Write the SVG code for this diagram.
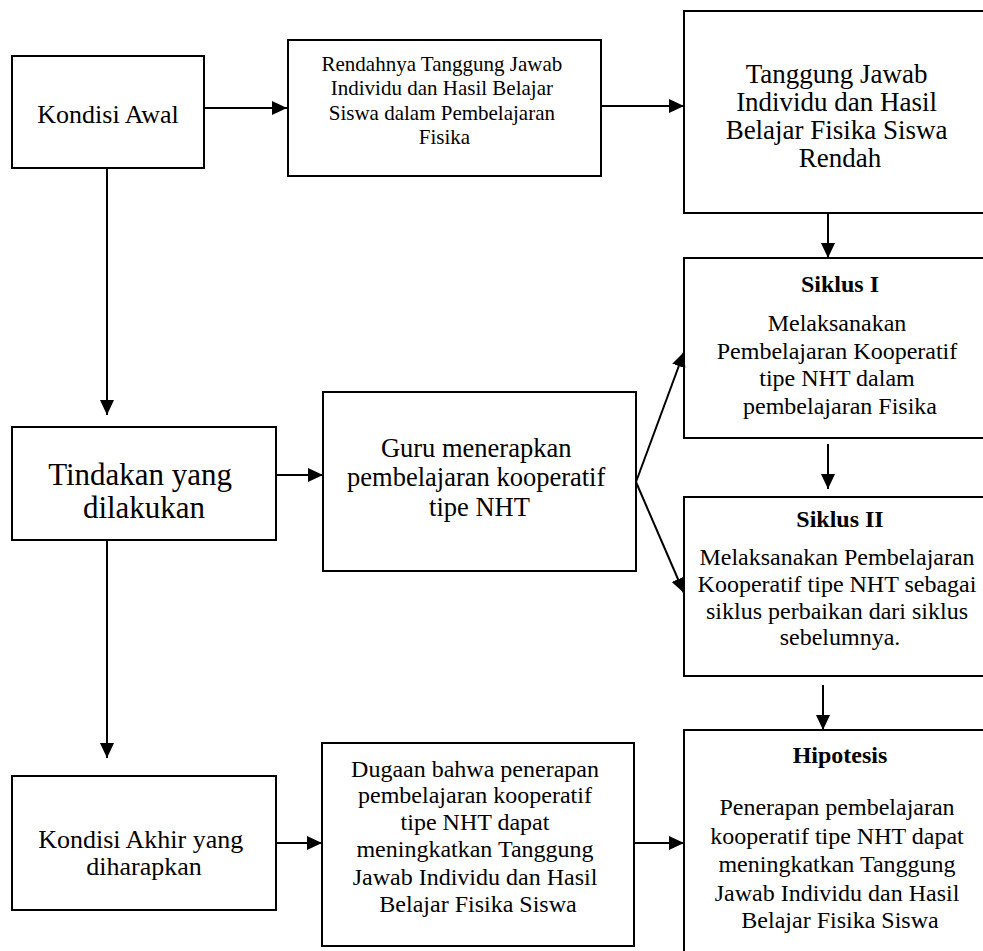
<svg xmlns="http://www.w3.org/2000/svg" width="983" height="951" viewBox="0 0 983 951">
  <style>
    .box { fill: #ffffff; stroke: #000000; stroke-width: 2; }
    text { font-family: 'Liberation Serif', serif; fill: #000000; text-anchor: middle; }
    .b { font-weight: bold; }
    .link { stroke: #000000; stroke-width: 2; fill: none; marker-end: url(#arrow); }
  </style>
  <defs>
    <marker id="arrow" markerUnits="userSpaceOnUse" markerWidth="15" markerHeight="14" refX="15" refY="7" orient="auto">
      <path d="M0,0 L15,7 L0,14 Z" fill="#000000"/>
    </marker>
  </defs>
  <rect width="983" height="951" fill="#ffffff"/>

  <!-- left column -->
  <g id="kondisi-awal">
    <rect class="box" x="12" y="56" width="192" height="112"/>
    <text x="108" y="123" font-size="26">Kondisi Awal</text>
  </g>
  <g id="tindakan">
    <rect class="box" x="12" y="427" width="264" height="113"/>
    <text font-size="31">
      <tspan x="144" y="485">Tindakan yang</tspan>
      <tspan x="144" y="518">dilakukan</tspan>
    </text>
  </g>
  <g id="kondisi-akhir">
    <rect class="box" x="12" y="776" width="264" height="134"/>
    <text font-size="26">
      <tspan x="144" y="848">Kondisi Akhir yang</tspan>
      <tspan x="144" y="875">diharapkan</tspan>
    </text>
  </g>

  <!-- middle column -->
  <g id="rendahnya">
    <rect class="box" x="288" y="40" width="313" height="136"/>
    <text font-size="21">
      <tspan x="444.5" y="71">Rendahnya Tanggung Jawab</tspan>
      <tspan x="444.5" y="95">Individu dan Hasil Belajar</tspan>
      <tspan x="444.5" y="120">Siswa dalam Pembelajaran</tspan>
      <tspan x="444.5" y="144">Fisika</tspan>
    </text>
  </g>
  <g id="guru">
    <rect class="box" x="323" y="392" width="313" height="179"/>
    <text font-size="26.5">
      <tspan x="479.5" y="457">Guru menerapkan</tspan>
      <tspan x="479.5" y="486">pembelajaran kooperatif</tspan>
      <tspan x="479.5" y="516">tipe NHT</tspan>
    </text>
  </g>
  <g id="dugaan">
    <rect class="box" x="322" y="743" width="312" height="203"/>
    <text font-size="24">
      <tspan x="478" y="777">Dugaan bahwa penerapan</tspan>
      <tspan x="478" y="803">pembelajaran kooperatif</tspan>
      <tspan x="478" y="830">tipe NHT dapat</tspan>
      <tspan x="478" y="857">meningkatkan Tanggung</tspan>
      <tspan x="478" y="885">Jawab Individu dan Hasil</tspan>
      <tspan x="478" y="912">Belajar Fisika Siswa</tspan>
    </text>
  </g>

  <!-- right column (boxes run past the right and bottom edges) -->
  <g id="tanggung-jawab-rendah">
    <rect class="box" x="684" y="11" width="312" height="202"/>
    <text font-size="27">
      <tspan x="840" y="83">Tanggung Jawab</tspan>
      <tspan x="840" y="111">Individu dan Hasil</tspan>
      <tspan x="840" y="139">Belajar Fisika Siswa</tspan>
      <tspan x="840" y="167">Rendah</tspan>
    </text>
  </g>
  <g id="siklus-1">
    <rect class="box" x="684" y="258" width="312" height="180"/>
    <text class="b" x="840" y="292" font-size="24">Siklus I</text>
    <text font-size="24">
      <tspan x="840" y="331">Melaksanakan</tspan>
      <tspan x="840" y="358.5">Pembelajaran Kooperatif</tspan>
      <tspan x="840" y="386">tipe NHT dalam</tspan>
      <tspan x="840" y="413.5">pembelajaran Fisika</tspan>
    </text>
  </g>
  <g id="siklus-2">
    <rect class="box" x="684" y="497" width="312" height="179"/>
    <text class="b" x="840" y="527" font-size="24">Siklus II</text>
    <text font-size="24">
      <tspan x="840" y="565">Melaksanakan Pembelajaran</tspan>
      <tspan x="840" y="592">Kooperatif tipe NHT sebagai</tspan>
      <tspan x="840" y="618.5">siklus perbaikan dari siklus</tspan>
      <tspan x="840" y="645">sebelumnya.</tspan>
    </text>
  </g>
  <g id="hipotesis">
    <rect class="box" x="684" y="730" width="312" height="240"/>
    <text class="b" x="840" y="763" font-size="24">Hipotesis</text>
    <text font-size="24">
      <tspan x="840" y="815">Penerapan pembelajaran</tspan>
      <tspan x="840" y="843.5">kooperatif tipe NHT dapat</tspan>
      <tspan x="840" y="872">meningkatkan Tanggung</tspan>
      <tspan x="840" y="900.5">Jawab Individu dan Hasil</tspan>
      <tspan x="840" y="928">Belajar Fisika Siswa</tspan>
    </text>
  </g>

  <!-- connectors -->
  <g id="connectors">
    <line class="link" x1="204" y1="108" x2="287" y2="108"/>
    <line class="link" x1="601" y1="106" x2="684" y2="106"/>
    <line class="link" x1="828" y1="213" x2="828" y2="258"/>
    <line class="link" x1="107" y1="168" x2="107" y2="415"/>
    <line class="link" x1="276" y1="475" x2="323" y2="475"/>
    <line class="link" x1="636" y1="482" x2="684" y2="352"/>
    <line class="link" x1="636" y1="482" x2="684" y2="593"/>
    <line class="link" x1="828" y1="444" x2="828" y2="489"/>
    <line class="link" x1="823" y1="685" x2="823" y2="730"/>
    <line class="link" x1="107" y1="540" x2="107" y2="758"/>
    <line class="link" x1="276" y1="843" x2="322" y2="843"/>
    <line class="link" x1="634" y1="843" x2="684" y2="843"/>
  </g>
</svg>
